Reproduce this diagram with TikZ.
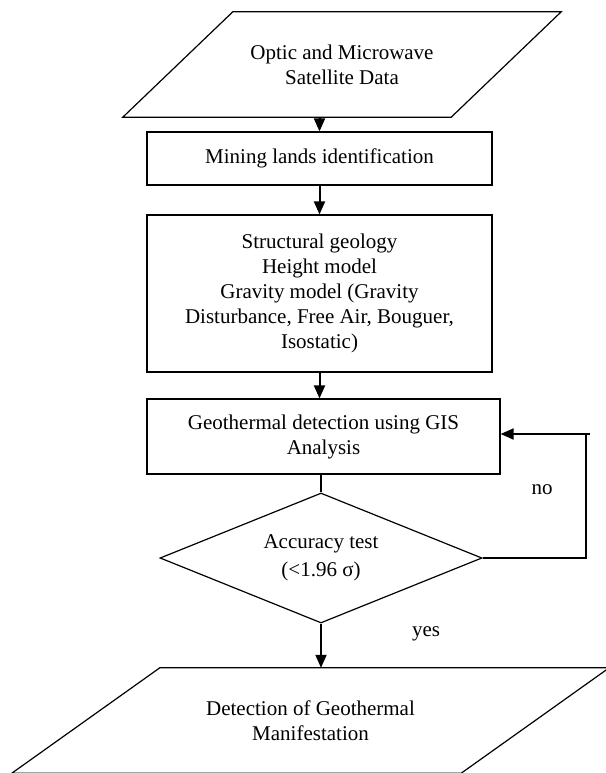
\documentclass[tikz,border=0pt]{standalone}
\usepackage{fontspec}
\setmainfont{Liberation Serif}
\usetikzlibrary{shapes.geometric,arrows.meta}

\tikzset{
  flowtext/.style={align=center, inner sep=0pt, font=\fontsize{21}{25}\selectfont},
  procbox/.style={flowtext, draw, line width=1.2pt, rectangle},
  iobox/.style={flowtext, rectangle},
  testbox/.style={flowtext, draw, line width=1.2pt, diamond, aspect=2.48},
  flowarrow/.style={line width=2pt, -{Triangle[length=13pt,width=11pt]}},
  flowline/.style={line width=1.3pt}
}

\begin{document}
\begin{tikzpicture}[x=1pt, y=-1pt]
% page frame
\useasboundingbox (0,0) rectangle (605,773);

% Drawing the flow boxes
\node[iobox, minimum width=438pt, minimum height=105pt] (data) at (342,64.5)
      {Optic and Microwave\\ Satellite Data};
\draw[flowline, line width=1.2pt] ([xshift=110pt]data.north west) -- (data.north east)
      -- ([xshift=-110pt]data.south east) -- (data.south west) -- cycle;
\node[procbox, minimum width=345pt, minimum height=53pt] (mining) at (319.5,158.5)
      {Mining lands identification};
\node[procbox, minimum width=345pt, minimum height=157pt] (models) at (319.5,293.5)
      {Structural geology\\ Height model\\ Gravity model (Gravity\\ Disturbance, Free Air, Bouguer,\\ Isostatic)};
\node[procbox, minimum width=353pt, minimum height=75pt] (gis) at (323.5,436.5)
      {Geothermal detection using GIS\\ Analysis};
\node[testbox, minimum width=322pt, minimum height=130pt] (test) at (321,558)
      {Accuracy test\\[3pt] (<1.96 σ)};
\node[iobox, minimum width=597pt, minimum height=105pt] (result) at (310.5,720.5)
      {Detection of Geothermal\\ Manifestation};
\draw[flowline, line width=1.2pt] ([xshift=148pt]result.north west) -- (result.north east)
      -- ([xshift=-148pt]result.south east) -- (result.south west) -- cycle;

% Drawing the connectors
\draw[flowarrow] (data.south -| mining.north) -- (mining.north);
\draw[flowarrow] (mining.south) -- (models.north);
\draw[flowarrow] (models.south) -- (models.south |- gis.north);
\draw[flowline] (test.north |- gis.south) -- (test.north);
\draw[flowarrow] (test.south) -- (test.south |- result.north);

% Drawing the loop back
\coordinate (loop) at (586,434);
\draw[flowline] (test.east) -| (loop);
\draw[flowarrow] ([xshift=4pt]loop) -- (gis.east |- loop);

% Labels
\node[flowtext] (nolabel) at (542,490) {no};
\node[flowtext] (yeslabel) at (426,634) {yes};
\end{tikzpicture}
\end{document}
